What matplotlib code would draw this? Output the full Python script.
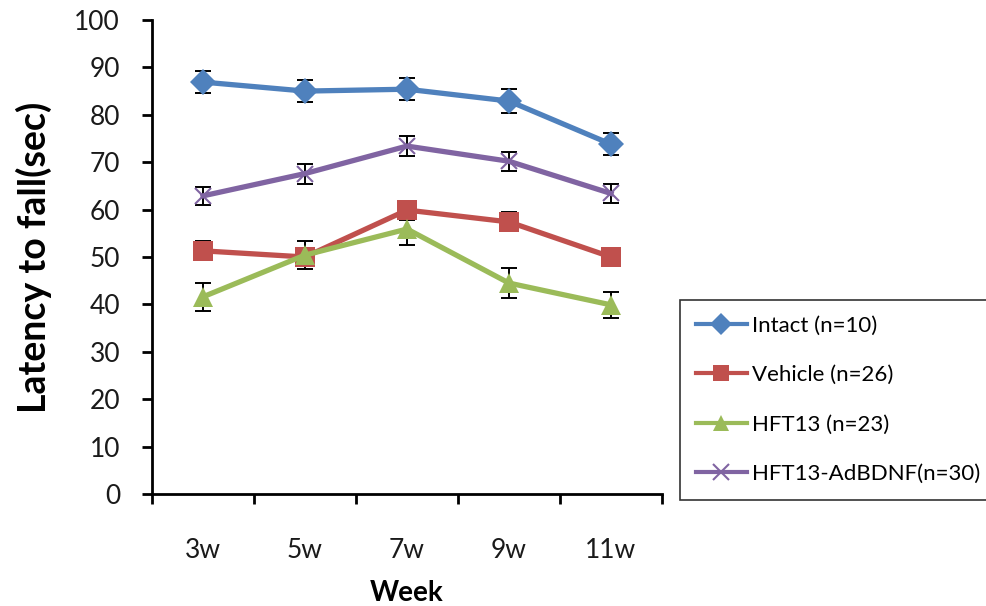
import matplotlib
matplotlib.use("Agg")
import matplotlib.pyplot as plt
import numpy as np

weeks = ["3w", "5w", "7w", "9w", "11w"]

intact = [86.9, 85.0, 85.4, 82.9, 73.8]
intact_err = [2.3, 2.3, 2.3, 2.5, 2.3]

vehicle = [51.3, 50.0, 59.9, 57.4, 50.0]
vehicle_err = [2.0, 2.0, 2.0, 2.0, 2.0]

hft13 = [41.6, 50.4, 55.9, 44.5, 39.9]
hft13_err = [3.0, 3.0, 3.4, 3.2, 2.7]

adbdnf = [62.9, 67.6, 73.4, 70.2, 63.4]
adbdnf_err = [1.9, 2.1, 2.1, 2.0, 2.1]

series = [
    ("Intact (n=10)", intact, intact_err, "#4F81BD", "D", 13),
    ("Vehicle (n=26)", vehicle, vehicle_err, "#C0504D", "s", 14),
    ("HFT13 (n=23)", hft13, hft13_err, "#9BBB59", "^", 15),
    ("HFT13-AdBDNF(n=30)", adbdnf, adbdnf_err, "#8064A2", "x", 12),
]

plt.rcParams["font.family"] = ["Lato", "DejaVu Sans"]

fig = plt.figure(figsize=(9.87, 6.06), dpi=100)
ax = fig.add_axes([152 / 987, 1 - 494 / 606, (662 - 152) / 987, (494 - 20) / 606])

x = np.arange(len(weeks))
handles = []
for label, vals, errs, color, marker, ms in series:
    ax.errorbar(x, vals, yerr=errs, fmt="none", ecolor="black",
                elinewidth=1.4, capsize=6, capthick=1.4, zorder=2)
    mew = 1.5 if marker == "x" else 0
    (h,) = ax.plot(x, vals, color=color, lw=3.8, marker=marker,
                   markersize=ms, markerfacecolor=color,
                   markeredgecolor=color, markeredgewidth=mew,
                   label=label, zorder=3)
    handles.append(h)

ax.set_xlim(-0.5, len(weeks) - 0.5)
ax.set_ylim(0, 100)
ax.set_yticks(np.arange(0, 101, 10))
ax.set_xticks(np.arange(-0.5, len(weeks), 1.0))
ax.set_xticklabels([])
ax.set_xticks(x, minor=True)
ax.set_xticklabels(weeks, minor=True)

for s in ["top", "right"]:
    ax.spines[s].set_visible(False)
for s in ["left", "bottom"]:
    ax.spines[s].set_linewidth(2.0)

ax.tick_params(axis="y", which="major", direction="out", length=7, width=2.0,
               labelsize=19, pad=16, labelcolor="#1a1a1a")
ax.tick_params(axis="x", which="major", direction="out", length=7, width=2.0)
ax.tick_params(axis="x", which="minor", length=0, labelsize=19, pad=32,
               labelcolor="#1a1a1a")

ax.set_ylabel("Latency to fall(sec)", fontsize=27, fontweight="bold", labelpad=16)
ax.set_xlabel("Week", fontsize=20, fontweight="bold", labelpad=12)

leg = fig.legend(handles=handles, loc="upper left",
                 bbox_to_anchor=(680 / 987, 1 - 300 / 606),
                 frameon=True, fancybox=False, fontsize=16,
                 handlelength=2.3, handletextpad=0.25, labelspacing=1.33,
                 borderpad=0.7, borderaxespad=0)
leg.get_frame().set_edgecolor("black")
leg.get_frame().set_linewidth(1.2)
for lh in leg.legend_handles:
    lh.set_linewidth(3)
    lh.set_markersize(11)

fig.savefig("out.png", dpi=100)
